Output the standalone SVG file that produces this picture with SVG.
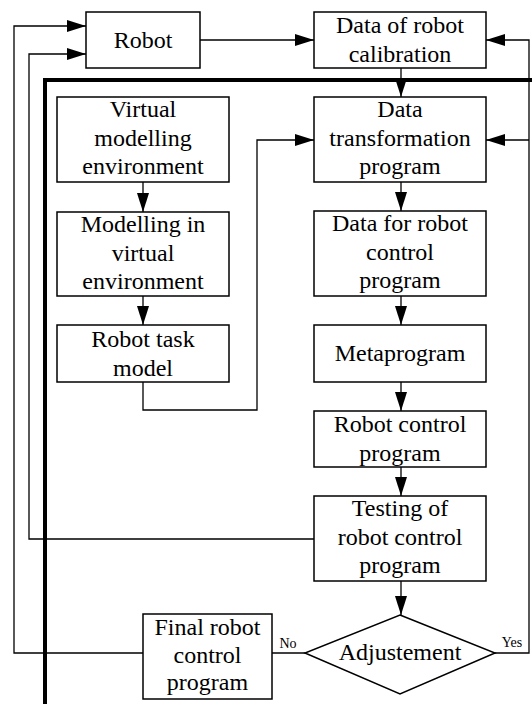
<svg xmlns="http://www.w3.org/2000/svg" width="532" height="704" viewBox="0 0 532 704">
<style>
.box{fill:#fff;stroke:#000;stroke-width:1.5}
text{fill:#000;text-anchor:middle}
.t{font-size:24px}
.s{font-size:14px}
.c{fill:none;stroke:#000;stroke-width:1.3}
.a{marker-end:url(#ah)}
.thick{fill:none;stroke:#000;stroke-width:4}
</style>
<defs>
<marker id="ah" markerUnits="userSpaceOnUse" markerWidth="19" markerHeight="12" refX="19" refY="6" orient="auto">
<path d="M0,0 L19,6 L0,12 z" fill="#000"/>
</marker>
</defs>
<rect width="532" height="704" fill="#fff"/>
<g id="connectors" font-family="Liberation Serif, serif">
<path class="c a" d="M200,40 H314"/>
<path class="c a" d="M401,68 V97"/>
<path class="c a" d="M401,182 V211"/>
<path class="c a" d="M401,296 V325"/>
<path class="c a" d="M401,382 V411"/>
<path class="c a" d="M401,467 V496"/>
<path class="c a" d="M401,581 V615"/>
<path class="c a" d="M143,182 V212"/>
<path class="c a" d="M143,296 V325"/>
<path class="c a" d="M143,382 V410 H257 V140 H314"/>
<path class="c" d="M305,653 H272"/>
<path class="c a" d="M495,653 H529 V40 H486"/>
<path class="c a" d="M529,140 H486"/>
<path class="c a" d="M314,539 H29 V54 H86"/>
<path class="c a" d="M143,653 H14 V26 H86"/>
<path class="thick" d="M45,706 V80 H534"/>
<text class="s" x="288" y="648">No</text>
<text class="s" x="512" y="647">Yes</text>
</g>
<g id="robot" font-family="Liberation Serif, serif">
<rect class="box" x="86" y="12" width="114" height="56"/>
<text class="t" x="143" y="48">Robot</text>
</g>
<g id="calibration" font-family="Liberation Serif, serif">
<rect class="box" x="314" y="12" width="172" height="56"/>
<text class="t" x="400" y="33">Data of robot</text>
<text class="t" x="400" y="62">calibration</text>
</g>
<g id="virtual-env" font-family="Liberation Serif, serif">
<rect class="box" x="57" y="97" width="172" height="85"/>
<text class="t" x="143" y="117">Virtual</text>
<text class="t" x="143" y="146">modelling</text>
<text class="t" x="143" y="174">environment</text>
</g>
<g id="modelling" font-family="Liberation Serif, serif">
<rect class="box" x="57" y="212" width="172" height="84"/>
<text class="t" x="143" y="232">Modelling in</text>
<text class="t" x="143" y="261">virtual</text>
<text class="t" x="143" y="289">environment</text>
</g>
<g id="task-model" font-family="Liberation Serif, serif">
<rect class="box" x="57" y="325" width="172" height="57"/>
<text class="t" x="143" y="347">Robot task</text>
<text class="t" x="143" y="376">model</text>
</g>
<g id="transformation" font-family="Liberation Serif, serif">
<rect class="box" x="314" y="97" width="172" height="85"/>
<text class="t" x="400" y="117">Data</text>
<text class="t" x="400" y="146">transformation</text>
<text class="t" x="400" y="174">program</text>
</g>
<g id="data-control" font-family="Liberation Serif, serif">
<rect class="box" x="314" y="211" width="172" height="85"/>
<text class="t" x="400" y="231">Data for robot</text>
<text class="t" x="400" y="260">control</text>
<text class="t" x="400" y="288">program</text>
</g>
<g id="metaprogram" font-family="Liberation Serif, serif">
<rect class="box" x="314" y="325" width="172" height="57"/>
<text class="t" x="400" y="361">Metaprogram</text>
</g>
<g id="robot-control" font-family="Liberation Serif, serif">
<rect class="box" x="314" y="411" width="172" height="56"/>
<text class="t" x="400" y="432">Robot control</text>
<text class="t" x="400" y="461">program</text>
</g>
<g id="testing" font-family="Liberation Serif, serif">
<rect class="box" x="314" y="496" width="172" height="85"/>
<text class="t" x="400" y="516">Testing of</text>
<text class="t" x="400" y="545">robot control</text>
<text class="t" x="400" y="573">program</text>
</g>
<g id="adjustement" font-family="Liberation Serif, serif">
<path class="box" d="M400,615 L495,653 L400,694 L305,653 Z"/>
<text class="t" x="400" y="660">Adjustement</text>
</g>
<g id="final" font-family="Liberation Serif, serif">
<rect class="box" x="143" y="614" width="129" height="85"/>
<text class="t" x="207.5" y="635">Final robot</text>
<text class="t" x="207.5" y="663">control</text>
<text class="t" x="207.5" y="690">program</text>
</g>
</svg>
